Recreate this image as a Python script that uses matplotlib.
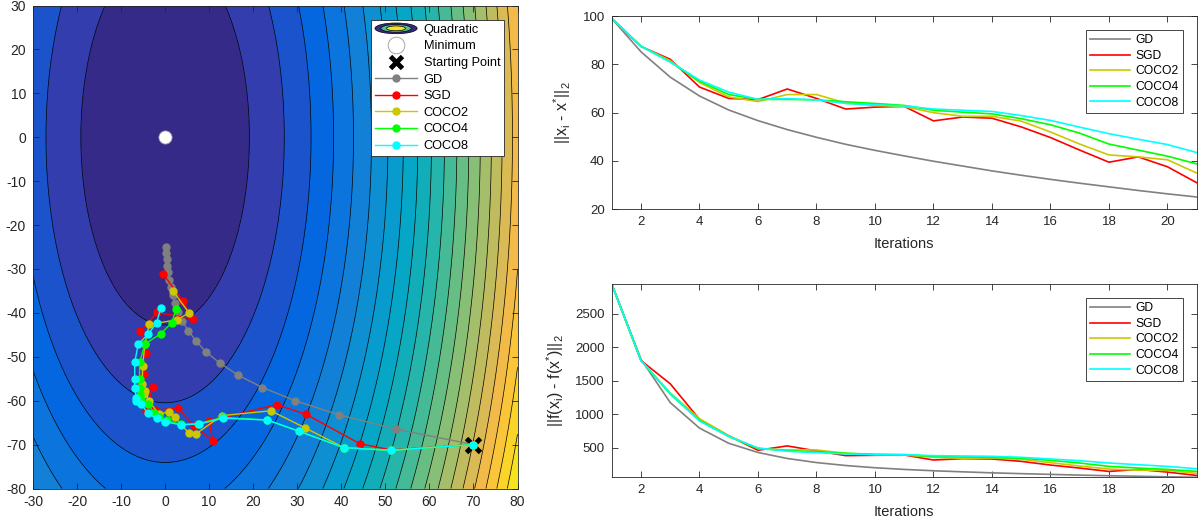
import numpy as np
import matplotlib
matplotlib.use('Agg')
import matplotlib.pyplot as plt
from matplotlib.colors import LinearSegmentedColormap, Normalize
from matplotlib.legend_handler import HandlerBase
from matplotlib.patches import Ellipse, Patch
from matplotlib.lines import Line2D

plt.rcParams['font.family'] = ['Liberation Sans', 'DejaVu Sans']
plt.rcParams['axes.unicode_minus'] = False
plt.rcParams['mathtext.fontset'] = 'custom'
plt.rcParams['mathtext.rm'] = 'Liberation Sans'
plt.rcParams['mathtext.it'] = 'Liberation Sans'

# quadratic f(x, y) = a*x^2 + b*y^2 shown on the left
quad_a = 0.5
quad_b = 0.1
n_levels = 20

# trajectories (left panel)
gd_x = [70, 52.5, 39.4, 29.5, 22.1, 16.6, 12.5, 9.3, 7.0, 5.3, 3.9, 3.0, 2.2, 1.7, 1.3, 0.9, 0.7, 0.5, 0.4, 0.3, 0.2]
gd_y = [-70, -66.5, -63.2, -60.0, -57.0, -54.2, -51.5, -48.9, -46.4, -44.1, -41.9, -39.8, -37.8, -35.9, -34.1, -32.4, -30.8, -29.3, -27.8, -26.4, -25.1]

sgd_x = [70, 51.3, 44.2, 32.0, 25.3, 10.0, 10.8, 6.5, 3.0, -2.2, -4.3, -2.8, -4.7, -5.0, -4.8, -4.3, -5.6, -1.8, 6.3, 4.0, -0.4]
sgd_y = [-70, -71.2, -69.8, -63.1, -60.9, -64.6, -69.1, -65.7, -61.7, -62.1, -62.4, -56.8, -58.0, -57.5, -54.0, -49.2, -44.1, -39.9, -41.4, -37.2, -31.2]

coco2_x = [70, 51.2, 40.6, 31.8, 24.0, 12.9, 6.9, 5.4, 2.2, 0.9, -1.4, -3.7, -4.6, -4.9, -5.2, -5.1, -4.6, -3.6, 2.7, 5.4, 1.8]
coco2_y = [-70, -71.3, -70.7, -66.2, -62.3, -63.4, -67.6, -67.4, -63.8, -62.5, -63.1, -60.0, -57.9, -58.4, -56.2, -52.1, -47.1, -42.6, -41.6, -40.0, -35.0]

coco4_x = [70, 51.2, 40.6, 30.5, 23.2, 13.2, 7.5, 3.5, 0.5, -1.4, -2.5, -3.9, -5.4, -5.8, -5.8, -5.8, -5.8, -4.6, -0.9, 1.5, 2.5]
coco4_y = [-70, -71.3, -70.7, -67.0, -64.4, -63.8, -65.2, -65.4, -64.5, -63.8, -62.7, -60.8, -59.7, -58.5, -57.0, -55.1, -51.3, -47.1, -44.7, -42.2, -39.1]

coco8_x = [70, 51.2, 40.6, 30.5, 23.2, 13.2, 7.8, 3.5, 0.0, -1.9, -3.9, -5.4, -6.6, -6.6, -6.9, -6.9, -6.9, -6.1, -3.8, -1.9, -1.0]
coco8_y = [-70, -71.3, -70.7, -67.0, -64.4, -64.0, -65.3, -65.5, -64.8, -64.0, -62.9, -60.8, -60.0, -59.3, -57.0, -55.1, -51.3, -47.1, -44.8, -42.2, -38.9]

minimum = (0, 0)
start = (70, -70)

# right panels
iterations = list(range(1, 22))
dist_gd = [99.0, 85.2, 74.7, 66.9, 61.1, 56.7, 53.0, 49.8, 46.9, 44.4, 42.1, 39.9, 37.9, 35.9, 34.1, 32.4, 30.8, 29.3, 27.8, 26.4, 25.1]
dist_sgd = [99.0, 87.4, 82.1, 70.6, 65.9, 65.4, 69.8, 65.9, 61.5, 62.3, 62.6, 56.6, 58.2, 57.7, 54.1, 49.7, 44.5, 39.5, 41.7, 37.6, 31.0]
dist_coco2 = [99.0, 87.5, 81.5, 72.5, 66.5, 64.6, 67.5, 67.5, 64.0, 63.0, 62.5, 60.0, 58.5, 58.5, 56.5, 52.0, 47.0, 42.5, 41.7, 40.5, 35.0]
dist_coco4 = [99.0, 87.5, 81.0, 73.0, 67.5, 65.5, 65.5, 65.3, 64.5, 63.8, 63.0, 61.0, 60.2, 59.5, 57.5, 55.0, 51.5, 47.0, 44.5, 42.0, 38.8]
dist_coco8 = [99.0, 87.5, 81.0, 73.5, 68.5, 65.5, 65.8, 65.3, 63.8, 63.2, 62.8, 61.5, 61.0, 60.5, 58.8, 56.8, 54.0, 51.3, 49.0, 46.8, 43.5]

fgap_gd = [2940, 1820, 1175, 795, 569, 432, 343, 282, 238, 205, 180, 160, 144, 129, 117, 106, 95, 86, 78, 70, 63]
fgap_sgd = [2940, 1800, 1455, 925, 680, 465, 530, 455, 385, 390, 395, 320, 340, 335, 300, 245, 200, 150, 180, 140, 90]
fgap_coco2 = [2940, 1800, 1320, 935, 680, 490, 470, 470, 420, 400, 395, 360, 345, 350, 330, 280, 230, 185, 170, 165, 120]
fgap_coco4 = [2940, 1800, 1300, 910, 670, 490, 460, 440, 420, 405, 400, 375, 365, 360, 345, 315, 275, 225, 200, 180, 150]
fgap_coco8 = [2940, 1800, 1310, 900, 670, 500, 450, 430, 410, 400, 400, 385, 380, 375, 360, 335, 310, 275, 250, 225, 190]

names = ['GD', 'SGD', 'COCO2', 'COCO4', 'COCO8']
colors = [(0.5, 0.5, 0.5), (1, 0, 0), (0.8, 0.78, 0), (0, 1, 0), (0, 1, 1)]

# parula colormap (sampled)
parula_pts = [[0.2081, 0.1663, 0.5292], [0.1959, 0.2645, 0.7279], [0.0117, 0.3875, 0.8820],
              [0.0498, 0.4586, 0.8641], [0.0793, 0.5200, 0.8312], [0.0343, 0.5966, 0.8199],
              [0.0228, 0.6535, 0.7768], [0.0843, 0.6928, 0.7062], [0.2178, 0.7250, 0.6193],
              [0.3953, 0.7459, 0.5244], [0.5709, 0.7485, 0.4494], [0.7184, 0.7411, 0.3905],
              [0.8507, 0.7299, 0.3360], [0.9739, 0.7314, 0.2666], [0.9880, 0.8066, 0.1794],
              [0.9589, 0.8949, 0.1132], [0.9763, 0.9831, 0.0538]]
parula_pos = [0, 4, 8, 12, 16, 20, 24, 28, 32, 36, 40, 44, 48, 52, 56, 60, 63]
parula = LinearSegmentedColormap.from_list('parula', [(p / 63, c) for p, c in zip(parula_pos, parula_pts)])

axis_col = '#262626'


class QuadHandler(HandlerBase):
    def create_artists(self, legend, orig_handle, xdescent, ydescent, width, height, fontsize, trans):
        cx = width / 2 - xdescent
        cy = height / 2 - ydescent
        arts = []
        for frac, val in zip([1.0, 0.72, 0.45], [0.0, 0.55, 0.95]):
            e = Ellipse((cx, cy), width * frac, height * 1.2 * frac, facecolor=parula(val),
                        edgecolor='k', lw=0.5, transform=trans)
            arts.append(e)
        return arts


def style_axes(ax, fs):
    for s in ax.spines.values():
        s.set_color(axis_col)
        s.set_linewidth(0.6)
    ax.tick_params(direction='in', length=4, width=0.6, top=True, right=True,
                   colors=axis_col, labelcolor='#262626', labelsize=fs, pad=5)


fig = plt.figure(figsize=(12.03, 5.25), dpi=100)

# ---- left: contour with trajectories
ax = fig.add_axes([0.0274, 0.0695, 0.4028, 0.92])
gx = np.linspace(-30, 80, 551)
gy = np.linspace(-80, 30, 551)
X, Y = np.meshgrid(gx, gy)
Z = quad_a * X ** 2 + quad_b * Y ** 2
levels = np.linspace(Z.min(), Z.max(), n_levels + 2)
step = levels[1] - levels[0]
ax.contourf(X, Y, Z, levels=levels, cmap=parula,
            norm=Normalize(vmin=levels[0] + step / 2, vmax=levels[-1] + step / 2))
ax.contour(X, Y, Z, levels=levels[1:-1], colors='k', linewidths=0.5)

ax.plot(*minimum, 'o', ms=9.5, mfc='white', mec=(0.6, 0.6, 0.6), mew=0.6, zorder=3)
ax.plot(*start, 'x', ms=10, mew=3.5, color='k', zorder=3)
trajs = [(gd_x, gd_y), (sgd_x, sgd_y), (coco2_x, coco2_y), (coco4_x, coco4_y), (coco8_x, coco8_y)]
for (tx, ty), c in zip(trajs, colors):
    ax.plot(tx, ty, '-o', color=c, lw=1.0, ms=5, zorder=4)

ax.set_xlim(-30, 80)
ax.set_ylim(-80, 30)
ax.set_xticks(range(-30, 81, 10))
ax.set_yticks(range(-80, 31, 10))
style_axes(ax, 10)

handles = [Patch(), Line2D([], [], ls='none', marker='o', ms=12, mfc='white', mec=(0.6, 0.6, 0.6), mew=0.6),
           Line2D([], [], ls='none', marker='x', ms=9, mew=3.5, color='k')]
handles += [Line2D([], [], color=c, lw=1.0, marker='o', ms=5) for c in colors]
leg = ax.legend(handles, ['Quadratic', 'Minimum', 'Starting Point'] + names,
                handler_map={Patch: QuadHandler()}, loc='upper right',
                bbox_to_anchor=(0.972, 0.970), borderaxespad=0, fontsize=9.2,
                handlelength=3.3, labelspacing=0.36, handletextpad=0.5, borderpad=0.3,
                fancybox=False, framealpha=1, edgecolor=axis_col)
leg.get_frame().set_linewidth(0.6)

# ---- right top: distance to optimum
ax1 = fig.add_axes([0.5085, 0.6013, 0.4863, 0.3682])
for d, c, n in zip([dist_gd, dist_sgd, dist_coco2, dist_coco4, dist_coco8], colors, names):
    ax1.plot(iterations, d, color=c, lw=1.2, label=n)
ax1.set_xlim(1, 21)
ax1.set_ylim(20, 100)
ax1.set_xticks(range(2, 21, 2))
ax1.set_yticks(range(20, 101, 20))
ax1.set_xlabel('Iterations', fontsize=10.5, color='#262626', labelpad=6)
ax1.set_ylabel(r'||x$_{i}$ - x$^{*}$||$_{2}$', fontsize=11.5, color='#262626')
ax1.yaxis.set_label_coords(-0.066, 0.5)
style_axes(ax1, 9.5)

# ---- right bottom: function gap
ax2 = fig.add_axes([0.5085, 0.0909, 0.4863, 0.3682])
fgaps = [fgap_gd, fgap_sgd, fgap_coco2, fgap_coco4, fgap_coco8]
for d, c, n in zip(fgaps, colors, names):
    ax2.plot(iterations, d, color=c, lw=1.2, label=n)
ax2.set_xlim(1, 21)
ax2.set_ylim(min(min(f) for f in fgaps), max(max(f) for f in fgaps))
ax2.set_xticks(range(2, 21, 2))
ax2.set_yticks(range(500, 2501, 500))
ax2.set_xlabel('Iterations', fontsize=10.5, color='#262626', labelpad=6)
ax2.set_ylabel(r'||f(x$_{i}$) - f(x$^{*}$)||$_{2}$', fontsize=11.5, color='#262626')
ax2.yaxis.set_label_coords(-0.078, 0.5)
style_axes(ax2, 9.5)

for a in (ax1, ax2):
    lg = a.legend(loc='upper right', bbox_to_anchor=(0.977, 0.928), borderaxespad=0,
                  fontsize=8.7, handlelength=3.3, labelspacing=0.3, handletextpad=0.5,
                  borderpad=0.35, fancybox=False, framealpha=1, edgecolor=axis_col)
    lg.get_frame().set_linewidth(0.6)

fig.savefig('out.png', dpi=100)
